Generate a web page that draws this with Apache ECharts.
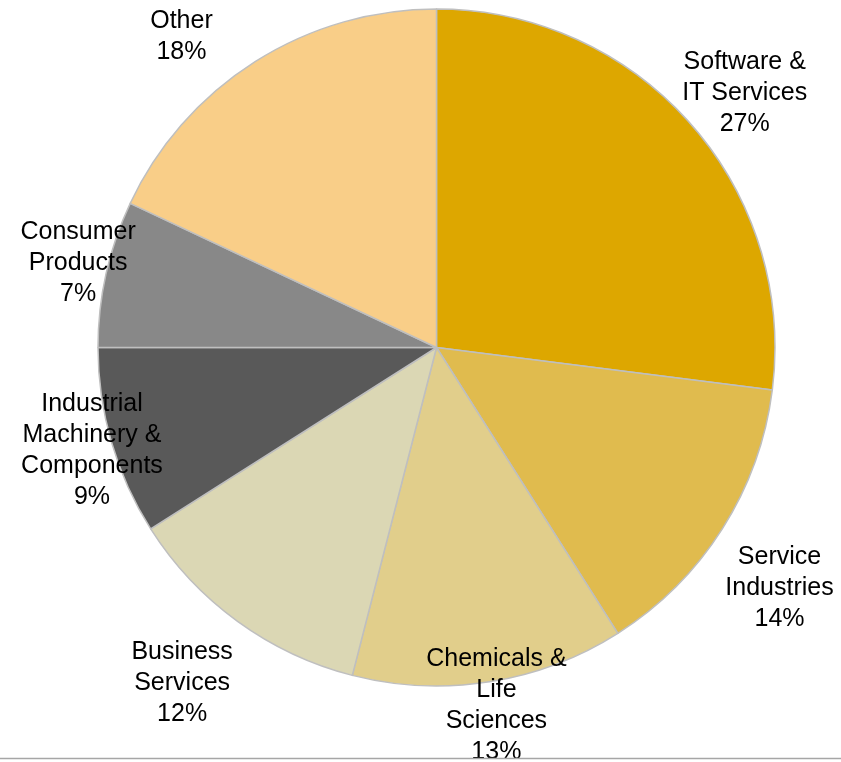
<!DOCTYPE html>
<html>
<head>
<meta charset="utf-8">
<style>
  html, body { margin: 0; padding: 0; background: #ffffff; }
  #chart { width: 841px; height: 762px; }
</style>
<script src="https://cdn.jsdelivr.net/npm/echarts@6/dist/echarts.min.js"></script>
</head>
<body>
<div id="chart"></div>
<script>
// Share of deals by sector (percent)
const categories = [
  'Software &\nIT Services',
  'Service\nIndustries',
  'Chemicals &\nLife\nSciences',
  'Business\nServices',
  'Industrial\nMachinery &\nComponents',
  'Consumer\nProducts',
  'Other'
];
const shares = [27, 14, 13, 12, 9, 7, 18];
const sliceColors = ['#DDA700', '#E0BB4E', '#E1CE8B', '#DBD7B4', '#595959', '#888888', '#F9CE88'];

// Label placement around the pie: [angle shift from slice middle (deg), distance / radius]
const labelPlacement = [
  [1.9, 1.18], [2.6, 1.237], [-0.5, 1.072], [1.2, 1.243],
  [-0.4, 1.062], [0.7, 1.088], [-7.0, 1.187]
];

const CX = 436.5, CY = 347.5, R = 338.5;
const total = shares.reduce((a, b) => a + b, 0);
const midAngles = [];
let acc = 0;
shares.forEach(v => { midAngles.push((acc + v / 2) / total * 360); acc += v; });

const chart = echarts.init(document.getElementById('chart'), null, { renderer: 'canvas' });
chart.setOption({
  animation: false,
  backgroundColor: '#ffffff',
  graphic: [{
    type: 'line',
    shape: { x1: 0, y1: 758.5, x2: 841, y2: 758.5 },
    style: { stroke: '#a6a6a6', lineWidth: 1.5 },
    z: 100
  }],
  series: [{
    type: 'pie',
    center: [CX, CY],
    radius: [0, R],
    startAngle: 90,
    clockwise: true,
    data: categories.map((name, i) => ({
      name: name,
      value: shares[i],
      itemStyle: { color: sliceColors[i] }
    })),
    itemStyle: { borderColor: '#BFBFBF', borderWidth: 1.5 },
    label: {
      show: true,
      position: 'inside',
      formatter: p => p.name + '\n' + p.value + '%',
      fontFamily: '"Liberation Sans", Arial, sans-serif',
      fontSize: 25,
      lineHeight: 31,
      color: '#000000',
      align: 'center'
    },
    labelLine: { show: false },
    labelLayout: function (params) {
      const i = params.dataIndex;
      const a = (midAngles[i] + labelPlacement[i][0]) * Math.PI / 180;
      const d = labelPlacement[i][1] * R;
      return {
        x: CX + d * Math.sin(a),
        y: CY - d * Math.cos(a),
        align: 'center',
        verticalAlign: 'middle'
      };
    },
    emphasis: { disabled: true }
  }]
});
</script>
</body>
</html>
